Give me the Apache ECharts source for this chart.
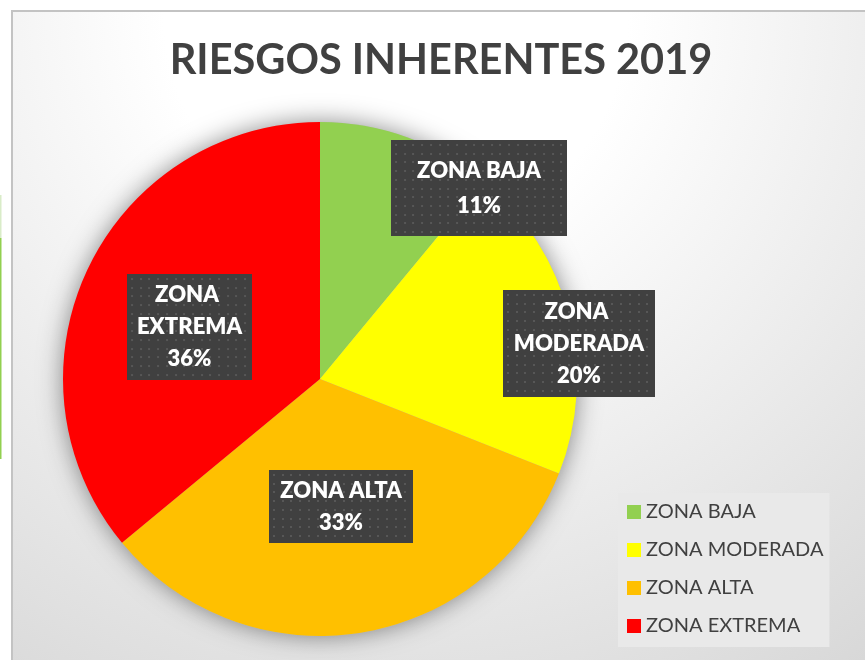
<!DOCTYPE html>
<html><head><meta charset="utf-8">
<script src="https://cdn.jsdelivr.net/npm/echarts@6/dist/echarts.min.js"></script>
<style>html,body{margin:0;padding:0;background:#fff}#c{width:865px;height:660px}</style>
</head><body><div id="c"></div>
<script>
// ---- data ----
const titleText = 'RIESGOS INHERENTES 2019';
const categories = ['ZONA BAJA', 'ZONA MODERADA', 'ZONA ALTA', 'ZONA EXTREMA'];
const values = [11, 20, 33, 36];
const colors = ['#92D050', '#FFFF00', '#FFC000', '#FF0000'];

// ---- label box styling (manual placement as in the original) ----
const labelBoxes = [
  { width: 176, lineHeight: 35, pad: 13,  offset: [114.5, -67.3] },
  { width: 152, lineHeight: 32, pad: 5.5, offset: [131.6, -2.8] },
  { width: 144, lineHeight: 32, pad: 4.5, offset: [0.4, -2.4] },
  { width: 125, lineHeight: 32, pad: 5,   offset: [-11.5, 4] }
];
const labelLines = [2, 3, 2, 3];

function dotted(w, h) {
  const c = document.createElement('canvas');
  c.width = Math.round(w); c.height = Math.round(h);
  const g = c.getContext('2d');
  g.fillStyle = '#404040'; g.fillRect(0, 0, c.width, c.height);
  g.fillStyle = '#575757';
  for (let y = 4; y < c.height - 1; y += 8.7)
    for (let x = 4; x < c.width - 1; x += 8.7)
      g.fillRect(Math.round(x), Math.round(y), 2, 2);
  return c;
}

const pieData = categories.map((name, i) => {
  const b = labelBoxes[i];
  const h = labelLines[i] * b.lineHeight + 2 * b.pad;
  return {
    name: name,
    value: values[i],
    itemStyle: { color: colors[i] },
    label: {
      width: b.width,
      lineHeight: b.lineHeight,
      padding: [b.pad, 0, b.pad, 0],
      offset: b.offset,
      backgroundColor: { image: dotted(b.width, h) }
    }
  };
});

const chart = echarts.init(document.getElementById('c'), null, { renderer: 'canvas' });
chart.setOption({
  animation: false,
  backgroundColor: '#ffffff',
  graphic: [
    {
      type: 'rect', z: -10, silent: true,
      shape: { x: 12, y: 11, width: 870, height: 670 },
      style: {
        fill: { type: 'radial', x: 396, y: 11, r: 800, global: true,
          colorStops: [
            { offset: 0, color: '#ffffff' },
            { offset: 0.29, color: '#ffffff' },
            { offset: 1, color: '#d8d8d8' }
          ] },
        stroke: '#c3c3c3', lineWidth: 2
      }
    },
    { type: 'rect', z: -10, silent: true, shape: { x: 0, y: 238, width: 1.5, height: 221 }, style: { fill: '#92D050' } },
    { type: 'rect', z: -10, silent: true, shape: { x: 0, y: 195, width: 1.5, height: 43 }, style: { fill: '#d9ecc8' } }
  ],
  title: {
    text: titleText,
    left: 441, top: 40, textAlign: 'center', padding: 0,
    textStyle: { fontFamily: 'Lato', fontWeight: 'bold', fontSize: 41.5, color: '#404040' }
  },
  legend: {
    data: categories,
    orient: 'vertical',
    left: 618, top: 493,
    padding: [9, 6, 11, 9],
    itemWidth: 14, itemHeight: 14, itemGap: 18,
    icon: 'rect',
    selectedMode: false,
    backgroundColor: '#e9e9e9',
    textStyle: { fontFamily: 'Lato', fontSize: 20, color: '#404040', lineHeight: 20 }
  },
  series: [
    {
      type: 'pie', name: 'sombra', silent: true, z: 1,
      center: [320, 379], radius: 257,
      data: [{ name: 'sombra', value: 1 }],
      label: { show: false }, labelLine: { show: false },
      itemStyle: { color: '#bbbbbb', shadowBlur: 24, shadowColor: 'rgba(0,0,0,0.45)' },
      emphasis: { disabled: true }, tooltip: { show: false }
    },
    {
      type: 'pie', name: 'Riesgos', z: 3,
      center: [320, 379], radius: 257,
      startAngle: 90, clockwise: true,
      data: pieData,
      label: {
        show: true, position: 'inside',
        formatter: '{b}\n{d}%',
        color: '#ffffff', fontFamily: 'Lato', fontWeight: 800, fontSize: 22,
        overflow: 'break', align: 'center', verticalAlign: 'middle',
        shadowColor: 'rgba(0,0,0,0.5)', shadowBlur: 4, shadowOffsetX: 3, shadowOffsetY: 3
      },
      labelLine: { show: false },
      itemStyle: { borderWidth: 0 },
      emphasis: { disabled: true }
    }
  ]
});
</script>
</body></html>
